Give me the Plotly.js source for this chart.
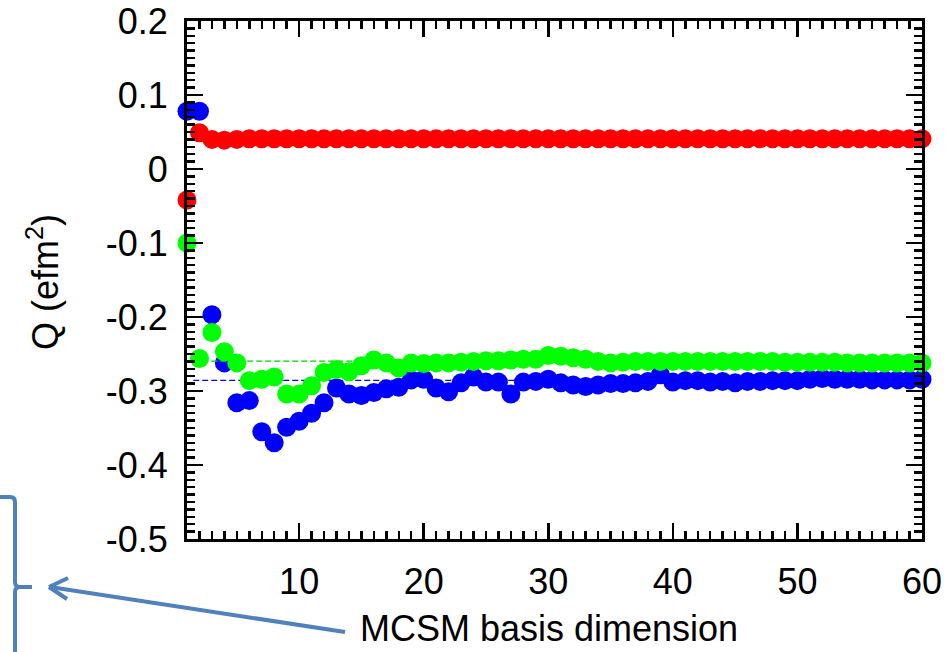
<!DOCTYPE html>
<html><head><meta charset="utf-8">
<script src="https://cdn.plot.ly/plotly-3.0.1.min.js"></script>
<style>html,body{margin:0;padding:0;background:#fff}</style>
</head><body>
<div id="chart" style="width:950px;height:652px"></div>
<script>
// ---- data ----
const basisDim = [1,2,3,4,5,6,7,8,9,10,11,12,13,14,15,16,17,18,19,20,
  21,22,23,24,25,26,27,28,29,30,31,32,33,34,35,36,37,38,39,40,
  41,42,43,44,45,46,47,48,49,50,51,52,53,54,55,56,57,58,59,60];

const qRed = [-0.042,0.049,0.040,0.039,0.040,0.041,0.041,0.041,0.041,0.041,
  0.041,0.041,0.041,0.041,0.041,0.041,0.041,0.041,0.041,0.041,
  0.041,0.041,0.041,0.041,0.041,0.041,0.041,0.041,0.041,0.041,
  0.041,0.041,0.041,0.041,0.041,0.041,0.041,0.041,0.041,0.041,
  0.041,0.041,0.041,0.041,0.041,0.041,0.041,0.041,0.041,0.041,
  0.041,0.041,0.041,0.041,0.041,0.041,0.041,0.041,0.041,0.041];

const qBlue = [0.078,0.078,-0.197,-0.262,-0.316,-0.313,-0.355,-0.370,-0.349,-0.341,
  -0.330,-0.316,-0.296,-0.304,-0.306,-0.302,-0.297,-0.295,-0.285,-0.284,
  -0.296,-0.301,-0.289,-0.281,-0.288,-0.288,-0.304,-0.288,-0.287,-0.284,
  -0.289,-0.292,-0.294,-0.292,-0.290,-0.290,-0.289,-0.287,-0.278,-0.288,
  -0.286,-0.286,-0.288,-0.287,-0.289,-0.287,-0.287,-0.286,-0.286,-0.286,
  -0.284,-0.283,-0.284,-0.284,-0.284,-0.285,-0.285,-0.285,-0.285,-0.284];

const qGreen = [-0.100,-0.256,-0.221,-0.247,-0.262,-0.286,-0.284,-0.281,-0.304,-0.304,
  -0.293,-0.275,-0.271,-0.274,-0.266,-0.258,-0.262,-0.269,-0.262,-0.263,
  -0.262,-0.262,-0.261,-0.260,-0.259,-0.259,-0.258,-0.257,-0.257,-0.252,
  -0.253,-0.255,-0.257,-0.260,-0.262,-0.261,-0.260,-0.260,-0.260,-0.260,
  -0.260,-0.260,-0.260,-0.260,-0.260,-0.260,-0.260,-0.260,-0.261,-0.261,
  -0.261,-0.261,-0.261,-0.262,-0.262,-0.262,-0.262,-0.262,-0.262,-0.262];

// converged reference levels (dashed lines)
const refX = [1.5, 60];
const refGreen = [-0.2595, -0.2595];
const refBlue = [-0.2856, -0.2856];

const xTickVals = [10,20,30,40,50,60];
const xTickText = ["10","20","30","40","50","60"];
const yTickVals = [0.2,0.1,0,-0.1,-0.2,-0.3,-0.4,-0.5];
const yTickText = ["0.2","0.1","0","-0.1","-0.2","-0.3","-0.4","-0.5"];

const yTitle = "Q (efm<sup>2</sup>)";
const xLabel = "MCSM basis dimension";

// ---- layout helpers ----
const L = 187, R = 922, T = 21, B = 539;
const px = x => (x - L) / (R - L);
const py = y => (B - y) / (B - T);
const arrowColor = "#4F81BD";

function pt(x, y) { return px(x).toFixed(5) + "," + py(y).toFixed(5); }

const bracketPath =
  "M" + pt(0,497) + " L" + pt(10,497) + " Q" + pt(15,497) + " " + pt(15,502) +
  " L" + pt(15,582) + " Q" + pt(15,587) + " " + pt(20,587) + " L" + pt(32,587) +
  " M" + pt(20,587) + " Q" + pt(15,587) + " " + pt(15,592) + " L" + pt(15,660);

const mk = (color) => ({color: color, size: 19, line: {width: 0}});

const traces = [
  {x: basisDim, y: qRed, type: "scatter", mode: "markers", marker: mk("#FF0000"), cliponaxis: false, name: "red"},
  {x: basisDim, y: qBlue, type: "scatter", mode: "markers", marker: mk("#0000FF"), cliponaxis: false, name: "blue"},
  {x: refX, y: refBlue, type: "scatter", mode: "lines", line: {color: "#0000FF", width: 1.2, dash: "6px,3px"}, name: "blue ref"},
  {x: refX, y: refGreen, type: "scatter", mode: "lines", line: {color: "#00D000", width: 1.2, dash: "6px,3px"}, name: "green ref"},
  {x: basisDim, y: qGreen, type: "scatter", mode: "markers", marker: mk("#00FF00"), cliponaxis: false, name: "green"}
];

const fnt = {family: "Liberation Sans, Arial, sans-serif", size: 36, color: "#000"};

const layout = {
  width: 950, height: 652,
  margin: {l: L, r: 950 - R, t: T, b: 652 - B},
  paper_bgcolor: "#fff", plot_bgcolor: "#fff",
  showlegend: false,
  font: fnt,
  xaxis: {
    range: [1, 60], showgrid: false, zeroline: false,
    showline: true, linewidth: 3, linecolor: "#000", mirror: "allticks",
    ticks: "inside", ticklen: 16, tickwidth: 2.5, tickcolor: "#000",
    tickmode: "array", tickvals: xTickVals, ticktext: xTickText,
    ticklabelstandoff: 9,
    minor: {ticks: "inside", tickmode: "linear", tick0: 0, dtick: 1, ticklen: 8, tickwidth: 2.5, tickcolor: "#000", showgrid: false},
    tickfont: fnt
  },
  yaxis: {
    range: [-0.5, 0.2], showgrid: false, zeroline: false,
    showline: true, linewidth: 3, linecolor: "#000", mirror: "allticks",
    ticks: "inside", ticklen: 16, tickwidth: 2.5, tickcolor: "#000",
    tickmode: "array", tickvals: yTickVals, ticktext: yTickText,
    ticklabelstandoff: 9,
    minor: {ticks: "inside", tickmode: "linear", tick0: 0, dtick: 0.01, ticklen: 8, tickwidth: 2.5, tickcolor: "#000", showgrid: false},
    tickfont: fnt
  },
  shapes: [
    {type: "path", xref: "paper", yref: "paper", path: bracketPath, line: {color: arrowColor, width: 4}, layer: "above"},
    {type: "line", xref: "paper", yref: "paper", x0: px(345), y0: py(632), x1: px(50), y1: py(587), line: {color: arrowColor, width: 4}, layer: "above"},
    {type: "line", xref: "paper", yref: "paper", x0: px(49), y0: py(587), x1: px(68), y1: py(578), line: {color: arrowColor, width: 4}, layer: "above"},
    {type: "line", xref: "paper", yref: "paper", x0: px(49), y0: py(587), x1: px(67), y1: py(599), line: {color: arrowColor, width: 4}, layer: "above"}
  ],
  annotations: [
    {xref: "paper", yref: "paper", x: px(358), y: py(628), xanchor: "left", yanchor: "middle",
     text: xLabel, showarrow: false, font: fnt},
    {xref: "paper", yref: "paper", x: px(43), y: py(282), xanchor: "center", yanchor: "middle",
     text: yTitle, textangle: -90, showarrow: false, font: fnt}
  ]
};

Plotly.newPlot("chart", traces, layout, {displayModeBar: false, staticPlot: true});
</script>
</body></html>
